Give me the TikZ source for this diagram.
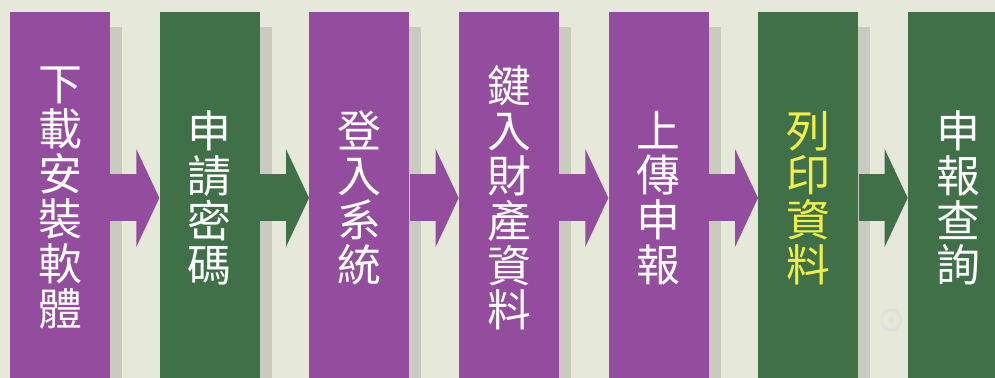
\documentclass[tikz,border=0pt]{standalone}
\usepackage{fontspec}
\newfontfamily\cjk{Noto Sans CJK TC}
\usetikzlibrary{positioning,arrows.meta,shadows}
\definecolor{bgpaper}{HTML}{E6E8DA}
\definecolor{stepPurple}{HTML}{944C9E}
\definecolor{stepGreen}{HTML}{407048}
\definecolor{txtYellow}{HTML}{F2F046}
\tikzset{
  stepbox/.style={fill=#1, minimum width=2cm, minimum height=7.44cm,
    inner sep=0pt, align=center, text=white,
    font=\cjk\fontsize{25}{25.5}\selectfont,
    drop shadow={shadow xshift=0.24cm, shadow yshift=-0.3cm,
      opacity=0.18, fill=black!70}},
  flow/.style={draw=#1, line width=0.94cm,
    -{Triangle[width=1.94cm,length=0.46cm]}}
}
\begin{document}
\begin{tikzpicture}[x=0.02cm,y=0.02cm,node distance=0.98cm]
  \useasboundingbox (0,0) rectangle (995,378);
  \clip (0,0) rectangle (995,378);
  \fill[bgpaper] (0,0) rectangle (995,378);
  % faint mark in the background
  \draw[black!12, line width=0.05cm] (891,58) circle (0.2cm);
  \fill[black!12] (891,58) circle (0.05cm);
  % steps
  \node[stepbox=stepPurple] (soft) at (60,180) {下\\載\\安\\裝\\軟\\體};
  \node[stepbox=stepGreen, right=of soft] (pass) {申\\請\\密\\碼};
  \node[stepbox=stepPurple, right=of pass] (login) {登\\入\\系\\統};
  \node[stepbox=stepPurple, right=of login] (keyin) {鍵\\入\\財\\產\\資\\料};
  \node[stepbox=stepPurple, right=of keyin] (upload) {上\\傳\\申\\報};
  \node[stepbox=stepGreen, text=txtYellow, right=of upload] (print) {列\\印\\資\\料};
  \node[stepbox=stepGreen, right=of print] (query) {申\\報\\查\\詢};
  % arrows
  \draw[flow=stepPurple] (soft) -- (pass);
  \draw[flow=stepGreen] (pass) -- (login);
  \draw[flow=stepPurple] (login) -- (keyin);
  \draw[flow=stepPurple] (keyin) -- (upload);
  \draw[flow=stepPurple] (upload) -- (print);
  \draw[flow=stepGreen] (print) -- (query);
\end{tikzpicture}
\end{document}
